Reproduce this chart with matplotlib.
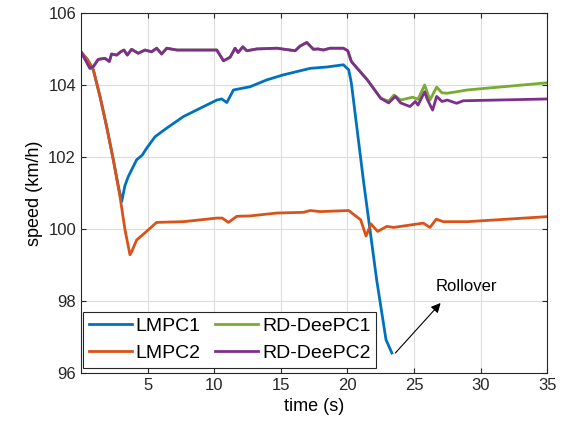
import matplotlib
matplotlib.use('Agg')
import matplotlib.pyplot as plt

plt.rcParams['font.family'] = ['Liberation Sans', 'DejaVu Sans']

# LMPC1
t1 = [0, 0.5, 0.93, 1.43, 1.93, 2.43, 2.8, 3.06, 3.3, 3.55, 4.18, 4.6, 4.93, 5.56, 6.44,
      7.69, 8.94, 10.2, 10.57, 10.95, 11.45, 12.7, 13.95, 15.2, 16.2, 17.2, 18.5, 19.7,
      20.1, 20.3, 21.2, 22.2, 22.9, 23.34]
v1 = [104.92, 104.7, 104.42, 103.68, 102.84, 101.92, 101.2, 100.76, 101.2, 101.45, 101.92,
      102.05, 102.24, 102.56, 102.8, 103.12, 103.35, 103.58, 103.61, 103.51, 103.86, 103.95,
      104.14, 104.28, 104.37, 104.46, 104.5, 104.56, 104.42, 104.05, 101.36, 98.58, 96.92, 96.55]

# LMPC2
t2 = [0, 0.5, 0.93, 1.43, 1.93, 2.43, 2.93, 3.31, 3.68, 3.85, 4.18, 4.93, 5.68, 7.69, 10.2,
      10.6, 11.07, 11.7, 12.7, 14.7, 16.7, 17.2, 17.96, 20.1, 21.0, 21.4, 21.77, 22.27,
      22.97, 23.46, 25.7, 26.2, 26.67, 27.2, 29, 35]
v2 = [104.92, 104.7, 104.42, 103.68, 102.84, 101.92, 100.9, 99.97, 99.28, 99.4, 99.69, 99.93,
      100.18, 100.2, 100.3, 100.3, 100.18, 100.35, 100.36, 100.44, 100.46, 100.51, 100.48,
      100.51, 100.25, 99.8, 100.14, 99.93, 100.07, 100.04, 100.16, 100.04, 100.27, 100.2,
      100.2, 100.34]

# RD-DeePC2
t4 = [0, 0.68, 0.93, 1.3, 1.8, 2.13, 2.3, 2.68, 2.98, 3.23, 3.48, 3.8, 4.3, 4.81, 5.3, 5.68,
      6.06, 6.44, 7.2, 8.2, 10.2, 10.7, 11.2, 11.57, 11.8, 12.15, 12.45, 13.2, 14.7, 16.08,
      16.45, 16.95, 17.45, 17.8, 18.2, 18.7, 19.7, 20.03, 20.3, 21.5, 22.5, 23.1, 23.6, 24.0,
      24.7, 25.1, 25.3, 25.8, 26.0, 26.4, 26.7, 27.1, 27.5, 28.2, 28.7, 35]
v4 = [104.92, 104.46, 104.51, 104.71, 104.74, 104.65, 104.86, 104.83, 104.92, 104.97, 104.83,
      104.99, 104.88, 104.97, 104.92, 105.02, 104.86, 105.02, 104.97, 104.97, 104.97, 104.67,
      104.77, 105.02, 104.9, 105.06, 104.95, 105.0, 105.02, 104.95, 105.08, 105.18, 104.99,
      105.0, 104.97, 105.02, 105.02, 104.95, 104.65, 104.14, 103.63, 103.5, 103.68, 103.5,
      103.4, 103.54, 103.44, 103.81, 103.6, 103.3, 103.68, 103.54, 103.58, 103.49, 103.56,
      103.61]

# RD-DeePC1
t3 = t4[:41] + [23.1, 23.5, 24.0, 24.9, 25.3, 25.8, 26.2, 26.7, 27.1, 27.5, 28.2, 29, 35]
v3 = v4[:41] + [103.55, 103.72, 103.58, 103.66, 103.6, 104.0, 103.58, 103.94, 103.78,
                103.77, 103.81, 103.86, 104.06]

fig = plt.figure(figsize=(5.7, 4.32), dpi=100)
ax = fig.add_axes([0.142, 0.137, 0.818, 0.833])

ax.plot(t1, v1, color='#0072BD', lw=2, label='LMPC1')
ax.plot(t2, v2, color='#D95319', lw=2, label='LMPC2')
ax.plot(t3, v3, color='#77AC30', lw=2, label='RD-DeePC1')
ax.plot(t4, v4, color='#7E2F8E', lw=2, label='RD-DeePC2')

ax.annotate('', xy=(27.0, 97.94), xytext=(23.6, 96.55),
            arrowprops=dict(arrowstyle='-|>', color='black', lw=0.8, mutation_scale=14,
                            shrinkA=0, shrinkB=0))
ax.text(26.6, 98.4, 'Rollover', fontsize=12, va='center', ha='left')

ax.set_xlim(0, 35)
ax.set_ylim(96, 106)
ax.set_xticks([5, 10, 15, 20, 25, 30, 35])
ax.set_yticks([96, 98, 100, 102, 104, 106])
ax.grid(True, color='#dcdcdc', lw=0.8)
ax.set_axisbelow(True)
ax.tick_params(direction='in', top=True, right=True, labelsize=12, colors='#262626')
for s in ax.spines.values():
    s.set_color('#262626')
    s.set_linewidth(0.8)
ax.set_xlabel('time (s)', fontsize=13)
ax.set_ylabel('speed (km/h)', fontsize=13)

leg = ax.legend(loc='lower left', bbox_to_anchor=(0.005, 0.013), ncol=2, fontsize=14,
                fancybox=False, edgecolor='#262626', framealpha=1, borderaxespad=0,
                handlelength=2.2, columnspacing=0.75, labelspacing=0.5, borderpad=0.3,
                handletextpad=0.2)
leg.get_frame().set_linewidth(0.8)

fig.savefig('out.png', dpi=100)
